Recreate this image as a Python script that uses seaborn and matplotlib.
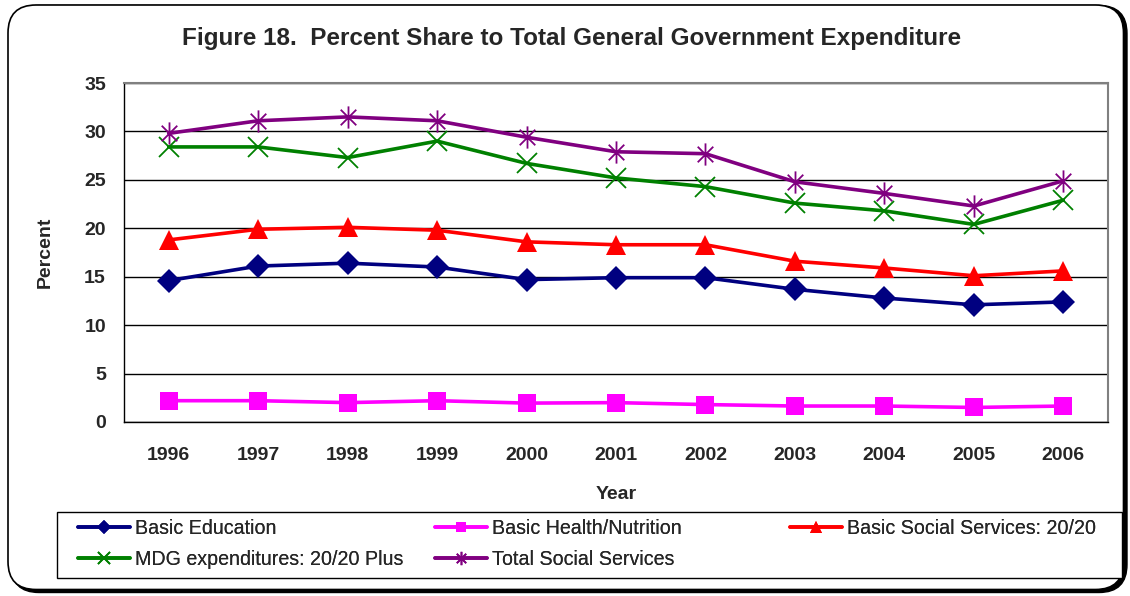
import numpy as np
import matplotlib
matplotlib.use("Agg")
import matplotlib.pyplot as plt
import seaborn as sns
from matplotlib.path import Path
from matplotlib.patches import FancyBboxPatch, Rectangle
from matplotlib.ticker import FixedLocator


# data
YEARS = [1996, 1997, 1998, 1999, 2000, 2001, 2002, 2003, 2004, 2005, 2006]
BASIC_EDUCATION = [14.6, 16.1, 16.4, 16.0, 14.7, 14.9, 14.9, 13.7, 12.8, 12.1, 12.4]
BASIC_HEALTH = [2.2, 2.2, 2.0, 2.2, 1.95, 2.0, 1.8, 1.65, 1.65, 1.5, 1.65]
BASIC_SOCIAL = [18.8, 19.9, 20.1, 19.8, 18.6, 18.3, 18.3, 16.6, 15.9, 15.1, 15.6]
MDG_PLUS = [28.4, 28.4, 27.3, 29.0, 26.7, 25.2, 24.3, 22.6, 21.8, 20.4, 22.9]
TOTAL_SOCIAL = [29.8, 31.1, 31.5, 31.1, 29.4, 27.9, 27.7, 24.8, 23.6, 22.3, 24.9]

LABELS = ["Basic Education", "Basic Health/Nutrition", "Basic Social Services: 20/20",
          "MDG expenditures: 20/20 Plus", "Total Social Services"]
Y_TICKS = [0, 5, 10, 15, 20, 25, 30, 35]

# excel style asterisk: x with a vertical bar
ASTERISK = Path(
    [(0, -1), (0, 1), (-0.7, -0.7), (0.7, 0.7), (-0.7, 0.7), (0.7, -0.7)],
    [Path.MOVETO, Path.LINETO, Path.MOVETO, Path.LINETO, Path.MOVETO, Path.LINETO],
)

sns.set_style("white")
plt.rcParams["font.family"] = ["Liberation Sans", "DejaVu Sans"]

fig = plt.figure(figsize=(11.3, 5.96), dpi=100)

# rounded frame with a shadow, behind everything
W, H = 11.3, 5.96
shadow = FancyBboxPatch((0.11, 0.035), W - 0.14, H - 0.09,
                        boxstyle="round,pad=0,rounding_size=0.28",
                        transform=fig.dpi_scale_trans, facecolor="black",
                        edgecolor="black", zorder=-3)
frame = FancyBboxPatch((0.08, 0.065), W - 0.145, H - 0.115,
                       boxstyle="round,pad=0,rounding_size=0.28",
                       transform=fig.dpi_scale_trans, facecolor="white",
                       edgecolor="black", lw=1.2, zorder=-2)
fig.add_artist(shadow)
fig.add_artist(frame)

ax = fig.add_axes([124 / 1130, 1 - 422 / 596, (1108 - 124) / 1130, (422 - 83) / 596])
ax.set_facecolor("white")

series = [
    (BASIC_EDUCATION, "#000080", dict(marker="D", markersize=12, markeredgewidth=0)),
    (BASIC_HEALTH, "#FF00FF", dict(marker="s", markersize=13, markeredgewidth=0)),
    (BASIC_SOCIAL, "#FF0000", dict(marker="^", markersize=15, markeredgewidth=0)),
    (MDG_PLUS, "#008000", dict(marker="x", markersize=15, markeredgewidth=1.3)),
    (TOTAL_SOCIAL, "#800080", dict(marker=ASTERISK, markersize=16, markeredgewidth=1.3,
                                   fillstyle="none")),
]

for (vals, color, mk), label in zip(series, LABELS):
    sns.lineplot(x=YEARS, y=vals, ax=ax, color=color, lw=2.6, label=label,
                 markeredgecolor=color, **mk)

ax.set_xlim(1995.5, 2006.5)
ax.set_ylim(0, 35)

# labels at centres, tick marks at category boundaries
ax.set_xticks(YEARS)
ax.set_xticklabels([str(y) for y in YEARS], fontsize=14, fontweight="bold")
ax.xaxis.set_minor_locator(FixedLocator(np.arange(1995.5, 2007, 1)))
ax.tick_params(axis="x", which="major", length=0, pad=18)
ax.tick_params(axis="x", which="minor", length=5, width=1, color="black", direction="out")
ax.set_yticks(Y_TICKS)
ax.set_yticklabels([str(t) for t in Y_TICKS], fontsize=14, fontweight="bold")
ax.tick_params(axis="y", length=5, width=1, color="black", direction="out", pad=8)

ax.yaxis.grid(True, color="black", lw=1)
ax.set_axisbelow(True)
for side in ["left", "bottom"]:
    ax.spines[side].set_color("black")
    ax.spines[side].set_linewidth(1)
for side in ["top", "right"]:
    ax.spines[side].set_color("#808080")
    ax.spines[side].set_linewidth(1.5)

ax.set_xlabel("Year", fontsize=14, fontweight="bold", labelpad=16)
ax.set_ylabel("Percent", fontsize=14, fontweight="bold", labelpad=22)

fig.text(0.506, 1 - 38 / 596, "Figure 18.  Percent Share to Total General Government Expenditure",
         ha="center", va="center", fontsize=17.5, fontweight="bold")

# legend: box plus three evenly spaced columns
handles, labels = ax.get_legend_handles_labels()
ax.get_legend().remove()
fig.add_artist(Rectangle((57 / 1130, 1 - 578 / 596), (1122 - 57) / 1130, (578 - 512) / 596,
                         transform=fig.transFigure, facecolor="white",
                         edgecolor="black", lw=1, zorder=1))
columns = [([0, 3], 78), ([1, 4], 435), ([2], 790)]
for idx, x0 in columns:
    leg = fig.legend([handles[i] for i in idx], [labels[i] for i in idx],
                     loc="upper left", bbox_to_anchor=(x0 / 1130, 1 - 519 / 596),
                     fontsize=14.1, frameon=False, handlelength=2.65,
                     handletextpad=0.26, borderaxespad=0, borderpad=0,
                     labelspacing=0.62)
    leg.set_zorder(2)
    for line in leg.get_lines():
        line.set_markersize(line.get_markersize() * 0.6)
    fig.add_artist(leg)

fig.savefig("out.png", dpi=100)
